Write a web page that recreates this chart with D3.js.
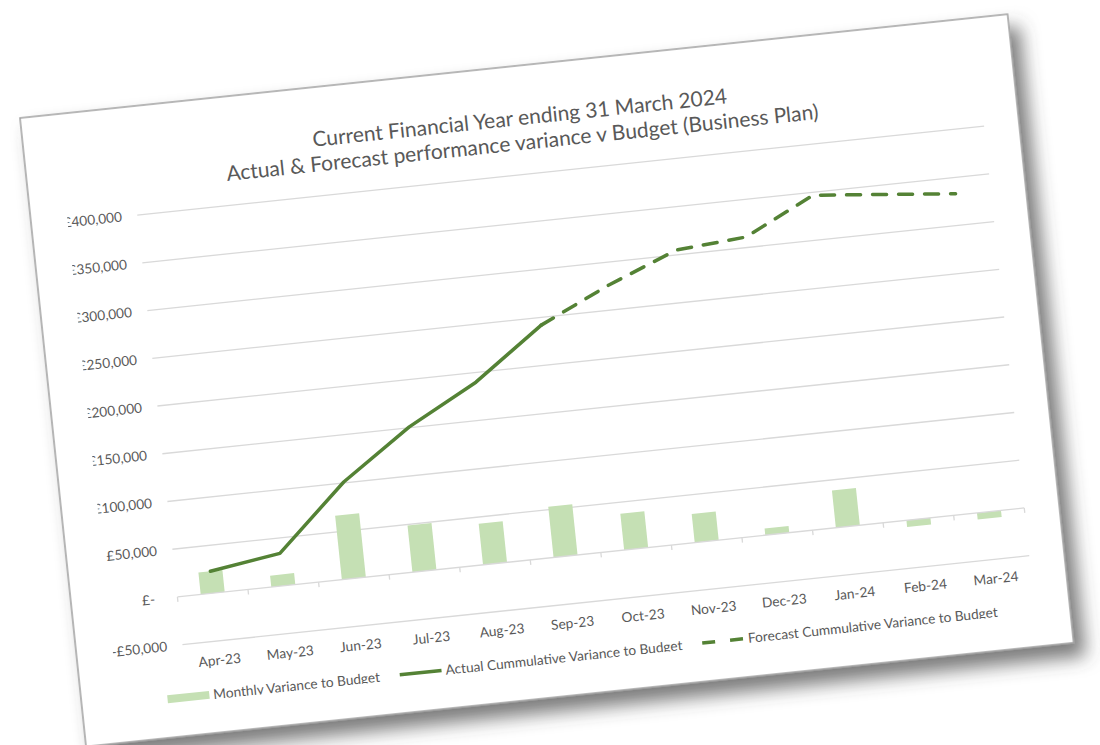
<!DOCTYPE html>
<html>
<head>
<meta charset="utf-8">
<script src="https://cdn.jsdelivr.net/npm/d3@7"></script>
<style>
  body { margin: 0; background: #fff; }
  text { font-family: Lato, "Open Sans", sans-serif; fill: #595959; }
</style>
</head>
<body>
<div class="chart-1"></div>
<script>
// values
const months = ["Apr-23", "May-23", "Jun-23", "Jul-23", "Aug-23", "Sep-23",
                "Oct-23", "Nov-23", "Dec-23", "Jan-24", "Feb-24", "Mar-24"];
const monthlyVariance = [23000, 12000, 67000, 49000, 43000, 53000, 38000, 30000, 7000, 39000, -7000, -7000];
const actualCumulative = [23000, 34000, 101000, 151000, 190000, 242000, null, null, null, null, null, null];
const forecastCumulative = [null, null, null, null, null, 242000, 276000, 305000, 311000, 347000, 340000, 333000];
const yTicks = [-50000, 0, 50000, 100000, 150000, 200000, 250000, 300000, 350000, 400000];
const titleLines = ["Current Financial Year ending 31 March 2024",
                    "Actual & Forecast performance variance v Budget (Business Plan)"];
const legendNames = ["Monthly Variance to Budget", "Actual Cummulative Variance to Budget",
                     "Forecast Cummulative Variance to Budget"];

const svg = d3.select(".chart-1")
  .append("svg")
  .attr("width", 1100)
  .attr("height", 745);

const defs = svg.append("defs");
const shadow = defs.append("filter").attr("id", "shadow")
  .attr("x", "-10%").attr("y", "-10%").attr("width", "130%").attr("height", "130%");
shadow.append("feDropShadow")
  .attr("dx", 10).attr("dy", 14).attr("stdDeviation", 9)
  .attr("flood-color", "#444").attr("flood-opacity", 0.7);

// the chart is a picture pasted at a tilt, cropped on the left and bottom
const cardW = 993, cardH = 632;
defs.append("clipPath").attr("id", "crop")
  .append("rect").attr("x", 36.5).attr("y", 0).attr("width", cardW - 36.5).attr("height", 598.5);

const card = svg.append("g").attr("transform", "translate(20,118) rotate(-6)");

card.append("rect")
  .attr("width", cardW)
  .attr("height", cardH)
  .attr("fill", "#fff")
  .attr("stroke", "#a0a0a0")
  .attr("stroke-width", 1.5)
  .attr("filter", "url(#shadow)");

const chart = card.append("g").attr("clip-path", "url(#crop)");

const x = d3.scaleBand()
  .domain(months)
  .range([106.5, 958])
  .paddingInner(0.66)
  .paddingOuter(0.33);

const y = d3.scaleLinear()
  .domain([-50000, 400000])
  .range([540.8, 108.8]);

const plotL = 106.5, plotR = 958;
const fmt = d3.format(",");
const money = d => d === 0 ? "£-" : d < 0 ? "-£" + fmt(-d) : "£" + fmt(d);

// title
chart.selectAll("text.title")
  .data(titleLines)
  .join("text")
  .attr("class", "title")
  .attr("x", 497)
  .attr("y", (d, i) => 52 + i * 25)
  .attr("dy", "0.35em")
  .attr("text-anchor", "middle")
  .style("font-size", "21px")
  .text(d => d);

// gridlines
chart.selectAll("line.grid")
  .data(yTicks.filter(d => d !== 0))
  .join("line")
  .attr("class", "grid")
  .attr("x1", plotL).attr("x2", plotR)
  .attr("y1", d => y(d)).attr("y2", d => y(d))
  .attr("stroke", "#d9d9d9")
  .attr("stroke-width", 1.3);

// y labels
chart.selectAll("text.ylab")
  .data(yTicks)
  .join("text")
  .attr("class", "ylab")
  .attr("x", 91)
  .attr("dx", d => d === 0 ? -7 : 0)
  .attr("y", d => y(d))
  .attr("dy", "0.35em")
  .attr("text-anchor", "end")
  .style("font-size", "13.7px")
  .text(money);

// bars
chart.selectAll("rect.bar")
  .data(monthlyVariance)
  .join("rect")
  .attr("class", "bar")
  .attr("x", (d, i) => x(months[i]))
  .attr("y", d => y(Math.max(0, d)))
  .attr("width", x.bandwidth())
  .attr("height", d => Math.abs(y(d) - y(0)))
  .attr("fill", "#c5e0b4");

// category axis
const xAxis = chart.append("g")
  .attr("transform", `translate(0,${y(0)})`)
  .call(d3.axisBottom(x).tickSize(0).tickFormat(""));
xAxis.select(".domain").remove();
xAxis.append("line")
  .attr("x1", plotL).attr("x2", plotR)
  .attr("stroke", "#d9d9d9").attr("stroke-width", 1.3);
const edges = months.map(m => x(m) - x.step() * x.paddingInner() / 2).concat([plotR]);
xAxis.selectAll("line.tick-mark")
  .data(edges)
  .join("line")
  .attr("class", "tick-mark")
  .attr("x1", d => d).attr("x2", d => d)
  .attr("y1", 0).attr("y2", 5)
  .attr("stroke", "#d9d9d9").attr("stroke-width", 1.3);

chart.selectAll("text.xlab")
  .data(months)
  .join("text")
  .attr("class", "xlab")
  .attr("x", d => x(d) + x.bandwidth() / 2)
  .attr("y", 560)
  .attr("dy", "0.35em")
  .attr("text-anchor", "middle")
  .style("font-size", "13.7px")
  .text(d => d);

// lines
const line = d3.line()
  .defined(d => d != null)
  .x((d, i) => x(months[i]) + x.bandwidth() / 2)
  .y(d => y(d));

chart.append("path")
  .datum(actualCumulative)
  .attr("d", line)
  .attr("fill", "none")
  .attr("stroke", "#548235")
  .attr("stroke-width", 3.5)
  .attr("stroke-linejoin", "round")
  .attr("stroke-linecap", "round");

chart.append("path")
  .datum(forecastCumulative)
  .attr("d", line)
  .attr("fill", "none")
  .attr("stroke", "#548235")
  .attr("stroke-width", 3.5)
  .attr("stroke-dasharray", "14,12")
  .attr("stroke-linejoin", "round")
  .attr("stroke-linecap", "round");

// legend
const legend = chart.append("g").attr("transform", "translate(86,593.5)");
let lx = 0;
legendNames.forEach((name, i) => {
  const item = legend.append("g").attr("transform", `translate(${lx},0)`);
  if (i === 0) {
    item.append("rect").attr("x", 0).attr("y", -4).attr("width", 42).attr("height", 8).attr("fill", "#c5e0b4");
  } else {
    item.append("line").attr("x1", 0).attr("x2", 42)
      .attr("stroke", "#548235").attr("stroke-width", 3.5)
      .attr("stroke-dasharray", i === 2 ? "13,15" : null);
  }
  const t = item.append("text")
    .attr("x", 46)
    .attr("dy", "0.35em")
    .style("font-size", "13.7px")
    .text(name);
  lx += 46 + t.node().getComputedTextLength() + 20;
});
</script>
</body>
</html>
